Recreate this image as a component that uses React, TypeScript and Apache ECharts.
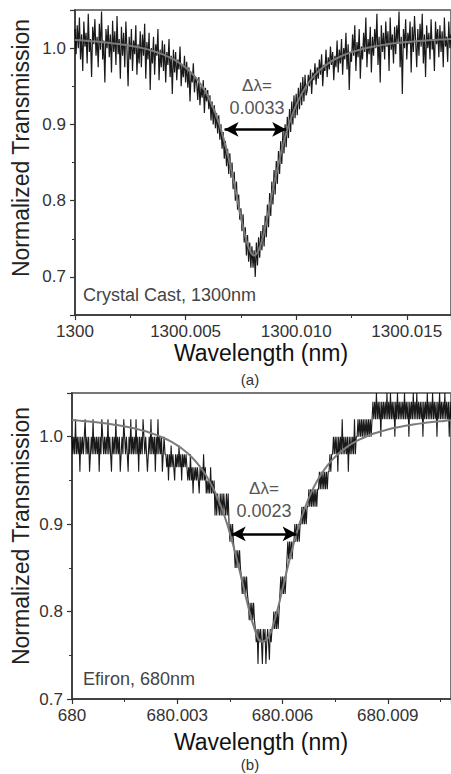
import React, { useEffect, useRef } from "react";
import * as echarts from "echarts";

// ---------- Panel (a): Crystal Cast, 1300 nm ----------
const A_BASE = 1300;
const A_STEP = 0.00005; // sampling step of the measured trace (offset from 1300 nm)
const dataA: number[] = [
  1.025, 0.992, 1.030, 1.000, 1.040, 0.985, 1.018, 0.970, 1.035, 1.002,
  1.020, 0.980, 1.045, 0.995, 1.012, 0.962, 1.028, 1.005, 1.038, 0.990,
  1.015, 0.975, 1.032, 0.998, 1.048, 0.985, 1.010, 0.955, 1.025, 1.000,
  1.030, 0.988, 1.018, 0.968, 1.036, 0.995, 1.022, 0.978, 1.042, 0.992,
  1.012, 0.960, 1.028, 0.990, 1.020, 0.975, 1.035, 0.998, 0.950, 1.015,
  0.985, 1.025, 0.970, 1.010, 0.992, 1.030, 0.965, 1.005, 0.980, 1.022,
  0.975, 1.018, 0.990, 1.032, 0.960, 1.008, 0.985, 1.020, 0.945, 1.000,
  0.980, 1.015, 0.965, 1.005, 0.990, 1.025, 0.958, 0.998, 0.975, 1.010,
  0.970, 1.005, 0.955, 0.995, 0.978, 1.012, 0.962, 0.990, 0.940, 0.998,
  0.968, 0.995, 0.958, 0.985, 0.972, 1.002, 0.950, 0.978, 0.962, 0.990,
  0.955, 0.982, 0.948, 0.975, 0.930, 0.968, 0.955, 0.980, 0.942, 0.962,
  0.955, 0.932, 0.962, 0.925, 0.950, 0.935, 0.958, 0.915, 0.948, 0.930,
  0.945, 0.920, 0.938, 0.905, 0.930, 0.900, 0.925, 0.895, 0.915, 0.888,
  0.912, 0.880, 0.900, 0.868, 0.890, 0.855, 0.878, 0.845, 0.868, 0.835,
  0.862, 0.830, 0.850, 0.815, 0.838, 0.800, 0.825, 0.788, 0.808, 0.775,
  0.790, 0.760, 0.782, 0.745, 0.765, 0.728, 0.755, 0.720, 0.745, 0.712,
  0.740, 0.712, 0.735, 0.700, 0.745, 0.715, 0.752, 0.725, 0.760, 0.735,
  0.768, 0.740, 0.780, 0.752, 0.795, 0.765, 0.810, 0.780, 0.825, 0.795,
  0.840, 0.808, 0.852, 0.822, 0.865, 0.835, 0.878, 0.848, 0.892, 0.862,
  0.900, 0.870, 0.910, 0.882, 0.920, 0.890, 0.930, 0.900, 0.938, 0.908,
  0.940, 0.912, 0.948, 0.920, 0.955, 0.925, 0.962, 0.930, 0.965, 0.938,
  0.945, 0.965, 0.950, 0.972, 0.940, 0.968, 0.958, 0.980, 0.952, 0.975,
  0.960, 0.985, 0.965, 0.992, 0.950, 0.978, 0.970, 0.998, 0.962, 0.988,
  0.972, 1.002, 0.978, 0.995, 0.958, 0.990, 0.975, 1.010, 0.968, 0.998,
  0.980, 1.012, 0.965, 1.000, 0.985, 1.020, 0.972, 1.005, 0.945, 0.995,
  0.982, 1.018, 0.990, 1.030, 0.970, 1.008, 0.988, 1.025, 0.960, 1.002,
  0.985, 1.020, 0.995, 1.040, 0.975, 1.012, 0.992, 1.028, 0.968, 1.015,
  0.990, 1.025, 1.000, 1.045, 0.978, 1.015, 0.955, 1.030, 0.995, 1.020,
  0.985, 1.035, 1.002, 1.022, 0.970, 1.040, 0.998, 1.018, 0.980, 1.028,
  0.992, 1.030, 1.008, 1.048, 0.975, 1.015, 0.940, 1.025, 1.000, 1.038,
  0.985, 1.020, 1.005, 1.035, 0.968, 1.028, 0.995, 1.042, 1.010, 0.975,
  1.025, 0.990, 1.032, 1.002, 1.045, 0.980, 1.018, 0.962, 1.030, 1.000,
  1.020, 0.985, 1.038, 0.998, 1.012, 0.970, 1.035, 1.005, 1.025, 0.988,
  1.030, 0.995, 1.022, 0.975, 1.040, 1.002, 1.015, 0.982, 1.035, 1.000,
  1.018,
];
const fitAX: number[] = [
  0.0, 0.0005, 0.001, 0.0015, 0.002, 0.0025, 0.003, 0.0035, 0.004, 0.0045,
  0.005, 0.0055, 0.006, 0.0065, 0.007, 0.0073, 0.0075, 0.0077, 0.0079, 0.0081,
  0.0083, 0.0085, 0.0087, 0.0089, 0.009, 0.0095, 0.01, 0.0105, 0.011, 0.0115,
  0.012, 0.0125, 0.013, 0.0135, 0.014, 0.0145, 0.015, 0.0155, 0.016, 0.0165, 0.017,
];
const fitAY: number[] = [
  1.0107, 1.0098, 1.0086, 1.0072, 1.0054, 1.0032, 1.0003, 0.9966, 0.9915, 0.9846,
  0.9746, 0.96, 0.9376, 0.9027, 0.849, 0.8077, 0.7789, 0.7531, 0.7347, 0.728,
  0.7347, 0.7531, 0.7789, 0.8077, 0.822, 0.8837, 0.9255, 0.9522, 0.9695, 0.981,
  0.989, 0.9947, 0.9989, 1.0021, 1.0046, 1.0065, 1.0081, 1.0093, 1.0103, 1.0112, 1.0119,
];
const arrowA = { x1: 0.00676, x2: 0.00955, y: 0.8934 };

// ---------- Panel (b): Efiron, 680 nm ----------
const B_BASE = 680;
const B_STEP = 0.000025;
const dataB: number[] = [
  // left shoulder
  1.0, 0.98, 1.0, 0.98, 1.02, 0.98, 1.0, 0.98, 1.0, 0.96,
  1.0, 0.98, 1.0, 0.98, 1.0, 1.02, 0.98, 1.0, 0.98, 1.0,
  0.96, 0.98, 1.0, 0.98, 1.02, 0.98, 1.0, 0.98, 1.0, 0.98,
  1.0, 0.96, 1.0, 0.98, 1.02, 1.0, 0.98, 1.0, 0.98, 1.0,
  0.98, 1.02, 0.98, 1.0, 0.98, 0.96, 1.0, 0.98, 1.0, 0.98,
  1.02, 0.98, 1.0, 0.98, 1.0, 0.96, 0.98, 1.0, 0.98, 1.02,
  1.0, 0.98, 1.0, 0.98, 0.96, 1.0, 0.98, 1.02, 0.98, 1.0,
  0.98, 1.0, 0.98, 1.02, 0.98, 1.0, 0.96, 1.0, 0.98, 1.0,
  0.98, 1.02, 1.0, 0.98, 1.0, 0.98, 0.96, 0.98, 1.0, 0.98,
  1.02, 0.98, 1.0, 0.98, 1.0, 0.96, 1.0, 0.98, 1.02, 0.98,
  1.0, 0.98, 1.0, 0.96, 0.98, 1.0, 0.98,
  // descending steps
  0.98, 0.965, 0.98, 0.95, 0.98, 0.965, 0.99, 0.965, 0.98, 0.965, 0.95, 0.98,
  0.965, 0.98, 0.965, 0.99, 0.965, 0.98, 0.95, 0.98, 0.965, 0.98, 0.965, 0.98,
  0.965, 0.95, 0.965, 0.95, 0.98, 0.95, 0.965, 0.935, 0.965, 0.95, 0.965,
  0.95, 0.965, 0.95, 0.935, 0.965, 0.95, 0.965, 0.95, 0.98, 0.95, 0.965,
  0.935, 0.95, 0.935, 0.95, 0.935, 0.965, 0.935, 0.95, 0.935, 0.95,
  0.91, 0.935, 0.91, 0.935, 0.92, 0.91, 0.935, 0.91, 0.935, 0.91, 0.935, 0.92, 0.91, 0.935, 0.91, 0.935,
  0.9, 0.88, 0.9, 0.88, 0.9, 0.88,
  0.87, 0.85, 0.87, 0.85, 0.87, 0.85, 0.87, 0.85,
  0.84, 0.82, 0.84, 0.82, 0.84, 0.82, 0.84, 0.82,
  0.81, 0.79, 0.81, 0.79, 0.81, 0.79, 0.81, 0.79,
  // bottom of the dip
  0.78, 0.765, 0.78, 0.74, 0.78, 0.765, 0.78, 0.765, 0.74, 0.78,
  0.765, 0.78, 0.74, 0.765, 0.78, 0.765, 0.745, 0.78, 0.765, 0.78,
  // rising steps
  0.78, 0.8, 0.78, 0.8, 0.78, 0.8, 0.78, 0.8,
  0.82, 0.84, 0.82, 0.84, 0.82, 0.84, 0.82, 0.84,
  0.86, 0.88, 0.86, 0.88, 0.86, 0.88, 0.86, 0.88,
  0.88, 0.9, 0.88, 0.9, 0.88, 0.9, 0.88, 0.9,
  0.9, 0.92, 0.9, 0.92, 0.9, 0.92, 0.9, 0.92,
  0.92, 0.94, 0.92, 0.94, 0.92, 0.94, 0.92, 0.94, 0.92, 0.94, 0.92, 0.94,
  0.94, 0.96, 0.94, 0.96, 0.94, 0.96, 0.94, 0.96, 0.94, 0.96, 0.94, 0.96,
  0.96, 0.98, 0.96, 0.98,
  0.98, 1.0, 0.98, 1.0, 0.98, 1.0, 0.96, 1.0, 0.98, 1.0,
  0.98, 1.02, 0.98, 1.0, 0.98, 1.0, 0.98, 1.0, 0.96, 1.0,
  0.98, 1.0, 0.98, 1.0, 0.98, 1.02, 0.98, 1.0,
  1.0, 1.02, 1.0, 1.02, 1.0, 1.02, 1.0, 1.02, 1.0, 1.02, 1.0, 1.02, 1.0, 1.02, 1.0, 1.02, 1.0, 1.02,
  // right shoulder
  1.04, 1.02, 1.04, 1.02, 1.05, 1.02, 1.04, 1.02, 1.04, 1.0,
  1.04, 1.02, 1.04, 1.02, 1.04, 1.02, 1.05, 1.02, 1.04, 1.02,
  1.05, 1.02, 1.04, 1.02, 1.04, 1.0, 1.04, 1.02, 1.05, 1.02,
  1.04, 1.02, 1.04, 1.02, 1.04, 1.02, 1.05, 1.02, 1.04, 1.02,
  1.04, 1.0, 1.04, 1.02, 1.04, 1.02, 1.05, 1.02, 1.04, 1.02,
  1.05, 1.02, 1.04, 1.02, 1.04, 1.02, 1.04, 1.0, 1.04, 1.02,
  1.04, 1.02, 1.05, 1.02, 1.04, 1.02, 1.04, 1.02, 1.05, 1.02,
  1.04, 1.02, 1.04, 1.0, 1.04, 1.02, 1.05, 1.02, 1.04, 1.02,
  1.04, 1.02, 1.05, 1.02, 1.04, 1.02, 1.04, 1.0, 1.04, 1.02,
];
const fitBX: number[] = [
  0.0, 0.0002, 0.0004, 0.0006, 0.0008, 0.001, 0.0012, 0.0014, 0.0016, 0.0018,
  0.002, 0.0022, 0.0024, 0.0026, 0.0028, 0.003, 0.0032, 0.0034, 0.0036, 0.0038,
  0.004, 0.0042, 0.0044, 0.0046, 0.0048, 0.005, 0.0052, 0.0054, 0.0056, 0.0058,
  0.006, 0.0062, 0.0064, 0.0066, 0.0068, 0.007, 0.0072, 0.0074, 0.0076, 0.0078,
  0.008, 0.0082, 0.0084, 0.0086, 0.0088, 0.009, 0.0092, 0.0094, 0.0096, 0.0098,
  0.01, 0.0102, 0.0104, 0.0106, 0.0108,
];
const fitBY: number[] = [
  1.019, 1.0184, 1.0177, 1.0169, 1.016, 1.015, 1.0138, 1.0125, 1.011, 1.0093,
  1.0072, 1.0049, 1.0021, 0.9988, 0.9949, 0.9901, 0.9843, 0.9771, 0.9682, 0.957,
  0.9429, 0.9251, 0.9027, 0.8751, 0.843, 0.8092, 0.7804, 0.7657, 0.7708, 0.7937,
  0.826, 0.8595, 0.8896, 0.9145, 0.9346, 0.9504, 0.963, 0.9729, 0.9809, 0.9873,
  0.9926, 0.9969, 1.0005, 1.0036, 1.0061, 1.0083, 1.0102, 1.0118, 1.0132, 1.0144,
  1.0155, 1.0165, 1.0173, 1.0181, 1.0187,
];
const arrowB = { x1: 0.00455, x2: 0.0064, y: 0.8888 };

const FONT = "'Liberation Sans', Arial, Helvetica, sans-serif";

function xAxisFor(gridIndex: number, base: number, max: number, interval: number) {
  return {
    type: "value",
    gridIndex,
    min: 0,
    max,
    interval,
    axisLine: { show: true, onZero: false, lineStyle: { color: "#333", width: 1.5 } },
    axisTick: { show: true, inside: false, length: 5, lineStyle: { color: "#333", width: 1.2 } },
    minorTick: { show: true, splitNumber: 2, length: 3, lineStyle: { color: "#333", width: 1 } },
    splitLine: { show: false },
    axisLabel: {
      color: "#333",
      fontSize: 17,
      fontFamily: FONT,
      margin: 8,
      showMaxLabel: false,
      formatter: (v: number) => (Math.abs(v) < 1e-12 ? String(base) : (base + v).toFixed(3)),
    },
  };
}

function yAxisFor(gridIndex: number, min: number) {
  return {
    type: "value",
    gridIndex,
    min,
    max: 1.05,
    splitNumber: 4,
    axisLine: { show: true, onZero: false, lineStyle: { color: "#333", width: 1.5 } },
    axisTick: { show: true, inside: false, length: 5, lineStyle: { color: "#333", width: 1.2 } },
    minorTick: { show: true, splitNumber: 2, length: 3, lineStyle: { color: "#333", width: 1 } },
    splitLine: { show: false },
    axisLabel: {
      color: "#333",
      fontSize: 17,
      fontFamily: FONT,
      margin: 9,
      formatter: (v: number) => {
        const r = Math.round(v * 10) / 10;
        return Math.abs(v - r) < 1e-6 && r <= 1.0 && r >= 0.7 ? r.toFixed(1) : "";
      },
    },
  };
}

function arrowMark(a: { x1: number; x2: number; y: number }) {
  return {
    silent: true,
    symbol: ["arrow", "arrow"],
    symbolSize: [11, 14],
    label: { show: false },
    lineStyle: { color: "#000", width: 2.5, type: "solid", opacity: 1 },
    emphasis: { disabled: true },
    data: [[{ coord: [a.x1, a.y] }, { coord: [a.x2, a.y] }]],
  };
}

function textEl(text: string, x: number, y: number, size: number, color: string, extra: any = {}) {
  return {
    type: "text",
    x,
    y,
    silent: true,
    ...extra,
    style: {
      text,
      fill: color,
      font: `${size}px ${FONT}`,
      textAlign: "center",
      textVerticalAlign: "middle",
    },
  };
}

export default function App() {
  const ref = useRef<HTMLDivElement>(null);
  useEffect(() => {
    if (!ref.current) return;
    const chart = echarts.init(ref.current, null, { renderer: "svg" });
    const option: any = {
      animation: false,
      backgroundColor: "#fff",
      grid: [
        { left: 75, top: 10, width: 377, height: 305, show: true, borderColor: "#777", borderWidth: 2, backgroundColor: "transparent" },
        { left: 72, top: 393, width: 380, height: 306, show: true, borderColor: "#777", borderWidth: 2, backgroundColor: "transparent" },
      ],
      xAxis: [xAxisFor(0, A_BASE, 0.017, 0.005), xAxisFor(1, B_BASE, 0.0108, 0.003)],
      yAxis: [yAxisFor(0, 0.65), yAxisFor(1, 0.7)],
      series: [
        {
          type: "line",
          xAxisIndex: 0,
          yAxisIndex: 0,
          data: dataA.map((v, i) => [i * A_STEP, v]),
          showSymbol: false,
          lineStyle: { color: "#000", width: 1.2, opacity: 0.9 },
          z: 2,
          markLine: arrowMark(arrowA),
        },
        {
          type: "line",
          xAxisIndex: 0,
          yAxisIndex: 0,
          data: fitAX.map((x, i) => [x, fitAY[i]]),
          showSymbol: false,
          smooth: 0.4,
          lineStyle: { color: "#7b7b7b", width: 2 },
          z: 3,
        },
        {
          type: "line",
          xAxisIndex: 1,
          yAxisIndex: 1,
          data: dataB.map((v, i) => [i * B_STEP, v]),
          showSymbol: false,
          lineStyle: { color: "#000", width: 1.1, opacity: 0.9 },
          z: 2,
          markLine: arrowMark(arrowB),
        },
        {
          type: "line",
          xAxisIndex: 1,
          yAxisIndex: 1,
          data: fitBX.map((x, i) => [x, fitBY[i]]),
          showSymbol: false,
          smooth: 0.4,
          lineStyle: { color: "#7b7b7b", width: 2 },
          z: 3,
        },
      ],
      graphic: [
        textEl("Normalized Transmission", 21, 148, 23, "#222", { rotation: Math.PI / 2 }),
        textEl("Normalized Transmission", 21, 536, 23, "#222", { rotation: Math.PI / 2 }),
        textEl("Wavelength (nm)", 261, 353, 23, "#111"),
        textEl("Wavelength (nm)", 261, 742, 23, "#111"),
        textEl("(a)", 250, 379, 15, "#333"),
        textEl("(b)", 250, 764, 15, "#333"),
        textEl("Δλ=", 257, 85, 17, "#555"),
        textEl("0.0033", 257, 108, 18, "#555"),
        textEl("Δλ=", 264, 488, 17, "#555"),
        textEl("0.0023", 264, 511, 18, "#555"),
        {
          type: "text", x: 83, y: 295, silent: true,
          style: { text: "Crystal Cast, 1300nm", fill: "#444", font: `18px ${FONT}`, textAlign: "left", textVerticalAlign: "middle" },
        },
        {
          type: "text", x: 83, y: 679, silent: true,
          style: { text: "Efiron, 680nm", fill: "#444", font: `18px ${FONT}`, textAlign: "left", textVerticalAlign: "middle" },
        },
      ],
    };
    chart.setOption(option);
    return () => chart.dispose();
  }, []);
  return (
    <div
      ref={ref}
      style={{ position: "fixed", left: 0, top: 0, width: 451, height: 774, background: "#fff" }}
    />
  );
}
